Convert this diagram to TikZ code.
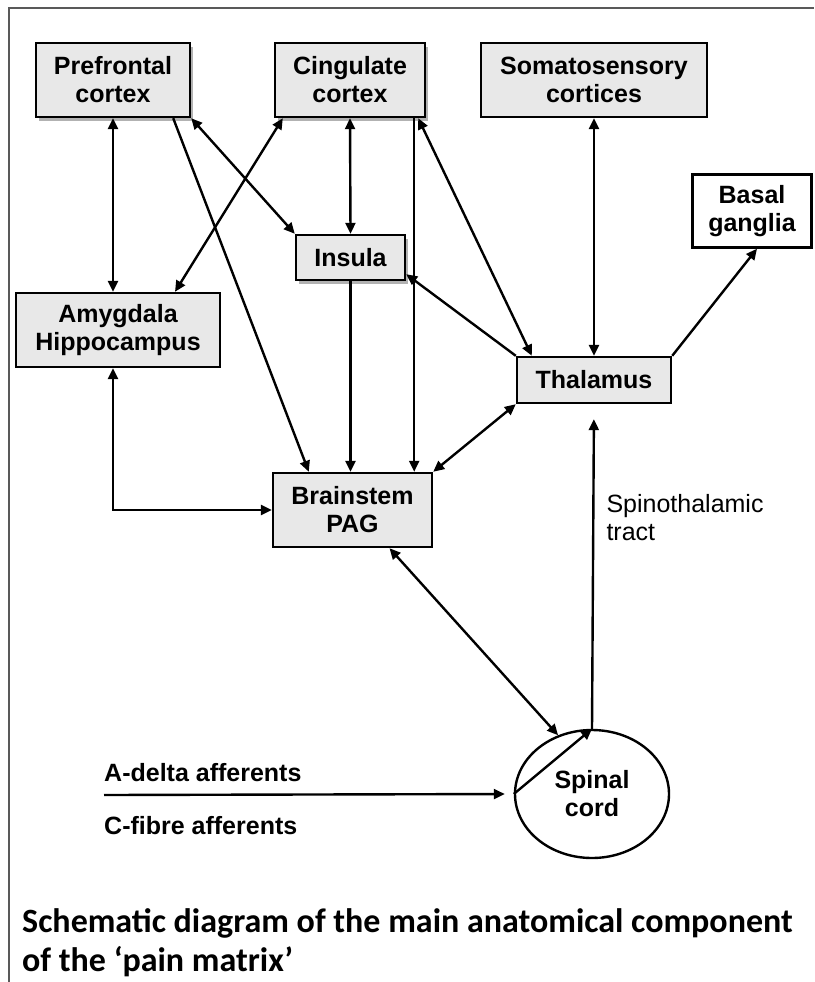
\documentclass[tikz,border=0pt]{standalone}
\usepackage{fontspec}
\setmainfont{Liberation Sans}
\newfontfamily\capfont{Carlito}
\usetikzlibrary{arrows.meta,calc,shapes.geometric,shadows}
\newcommand\boxtext{\fontsize{25}{28}\selectfont}

\begin{document}
\begin{tikzpicture}[x=1pt,y=-1pt,>={Triangle[length=11pt,width=10pt]},
  area/.style={draw,line width=2.4pt,fill=gray!18,font=\boxtext\bfseries,align=center,inner sep=0pt},
  shade/.style={drop shadow={shadow xshift=3pt,shadow yshift=-4pt,fill=black!60}},
  link/.style={line width=2.4pt}]
\useasboundingbox (0,0) rectangle (814,982);
\draw[line width=2.5pt,black!65] (9,982) -- (9,8) -- (814,8);
\node[area,shade,minimum width=154pt,minimum height=74pt] (pfc) at (113,80) {Prefrontal\\cortex};
\node[area,shade,minimum width=150pt,minimum height=74pt] (cing) at (350,80) {Cingulate\\cortex};
\node[area,minimum width=226pt,minimum height=74pt] (soma) at (594,80) {Somatosensory\\cortices};
\node[area,fill=white,minimum width=119pt,minimum height=73pt] (basal) at (752,211) {Basal\\ganglia};
\node[area,shade,minimum width=109pt,minimum height=45pt] (ins) at (350.5,257.5) {Insula};
\node[area,minimum width=204pt,minimum height=74pt] (amyg) at (118,330) {Amygdala\\Hippocampus};
\node[area,minimum width=154pt,minimum height=46pt] (thal) at (594,380) {Thalamus};
\node[area,minimum width=159pt,minimum height=74pt] (brain) at (352.5,510) {Brainstem\\PAG};
\node[ellipse,draw,line width=2.4pt,minimum width=154pt,minimum height=128pt,inner sep=0pt,font=\boxtext\bfseries,align=center] (sc) at (592,794) {Spinal\\cord};
\node[anchor=west,align=left,font=\boxtext] (stt) at (603,518) {Spinothalamic\\tract};
\node[anchor=west,inner sep=0pt,font=\boxtext\bfseries] (adelta) at (104,773) {A-delta afferents};
\node[anchor=west,inner sep=0pt,font=\boxtext\bfseries] (cfibre) at (104,826) {C-fibre afferents};
\coordinate (aff) at (104,795);
\node[anchor=west,align=left,inner sep=0pt,font=\capfont\bfseries\fontsize{34}{39}\selectfont] (cap) at (22,942.5) {Schematic diagram of the main anatomical component\\of the ‘pain matrix’};

\coordinate (pfcA) at ($(pfc.south east)+(-18,0)$);
\coordinate (cingA) at ($(cing.south east)+(-12,0)$);
\coordinate (amygA) at ($(amyg.south)+(-5,0)$);
\draw[link,<->] (pfc.south) -- (pfc.south |- amyg.north);
\draw[link,->] (pfcA) -- ($(brain.north west)+(37,0)$);
\draw[link,<->] (pfc.south east) -- (ins.north west);
\draw[link,<->] ($(cing.south west)+(9,0)$) -- ($(amyg.north)+(57,0)$);
\draw[link,<->] (cing.south) -- (ins.north);
\draw[link,->] (cingA) -- (cingA |- brain.north);
\draw[link,<->] ($(cing.south east)+(-8,0)$) -- ($(thal.north west)+(16,0)$);
\draw[link,->] (ins.south) -- (ins.south |- brain.north);
\draw[link,->] (thal.north west) -- ($(ins.south east)+(0,-7)$);
\draw[link,<->] (soma.south) -- (thal.north);
\draw[link,->] (thal.north east) -- ($(basal.south)+(5,0)$);
\draw[link,<->] (thal.south west) -- (brain.north east);
\draw[link,<->] (amygA) |- (brain.west);
\draw[link,<->] ($(brain.south)+(37,0)$) -- (sc.120);
\draw[link,->,shorten >=15pt] (sc.north) -- (thal.south);
\draw[link,->,shorten >=9pt] (aff) -- (sc.west);
\draw[link,->] (sc.west) -- (sc.north);
\end{tikzpicture}
\end{document}
